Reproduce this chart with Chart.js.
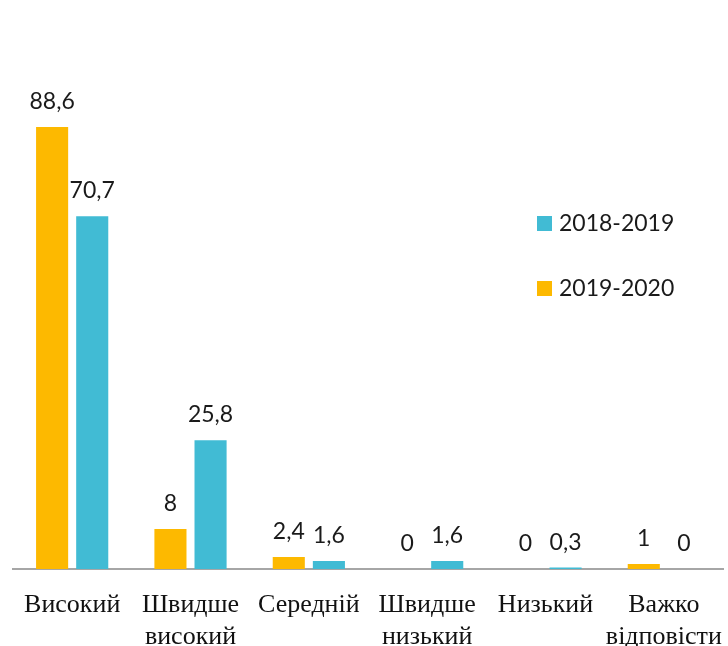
<!DOCTYPE html>
<html>
<head>
<meta charset="utf-8">
<script src="https://cdn.jsdelivr.net/npm/chart.js@4/dist/chart.umd.min.js"></script>
<style>
html,body{margin:0;padding:0;background:#fff;}
#wrap{width:728px;height:646px;}
</style>
</head>
<body>
<div id="wrap"><canvas id="c" width="728" height="646"></canvas></div>
<script>
const categories = [
  ["Високий"],
  ["Швидше", "високий"],
  ["Середній"],
  ["Швидше", "низький"],
  ["Низький"],
  ["Важко", "відповісти"]
];
const seriesNames = ["2019-2020", "2018-2019"];
const values2019_2020 = [88.6, 8, 2.4, 0, 0, 1];
const values2018_2019 = [70.7, 25.8, 1.6, 1.6, 0.3, 0];
const legendOrder = ["2018-2019", "2019-2020"];

const COLORS = {"2019-2020": "#FDB900", "2018-2019": "#41BBD4"};
const LABEL_FONT = "23px Lato";

const fmt = v => String(v).replace('.', ',');

const dataLabels = {
  id: 'dataLabels',
  afterDatasetsDraw(chart) {
    const ctx = chart.ctx;
    ctx.save();
    ctx.font = LABEL_FONT;
    ctx.fillStyle = '#1a1a1a';
    ctx.textAlign = 'center';
    ctx.textBaseline = 'alphabetic';
    chart.data.datasets.forEach((ds, i) => {
      chart.getDatasetMeta(i).data.forEach((bar, j) => {
        ctx.fillText(fmt(ds.data[j]), bar.x, bar.y - 18);
      });
    });
    ctx.restore();
  }
};

const insideLegend = {
  id: 'insideLegend',
  afterDraw(chart) {
    const ctx = chart.ctx;
    const a = chart.chartArea;
    const x0 = a.right - 186;
    const y0 = a.top + 146;
    ctx.save();
    ctx.font = LABEL_FONT;
    ctx.textAlign = 'left';
    ctx.textBaseline = 'middle';
    legendOrder.forEach((name, k) => {
      const y = y0 + k * 65;
      ctx.fillStyle = COLORS[name];
      ctx.fillRect(x0, y, 15, 15);
      ctx.fillStyle = '#1a1a1a';
      ctx.fillText(name, x0 + 22, y + 8);
    });
    ctx.restore();
  }
};

new Chart(document.getElementById('c'), {
  type: 'bar',
  data: {
    labels: categories,
    datasets: [
      {label: seriesNames[0], data: values2019_2020, backgroundColor: COLORS["2019-2020"]},
      {label: seriesNames[1], data: values2018_2019, backgroundColor: COLORS["2018-2019"]}
    ]
  },
  options: {
    responsive: false,
    devicePixelRatio: 1,
    animation: false,
    categoryPercentage: 0.678,
    barPercentage: 0.8,
    layout: {padding: {top: 70, left: 13, right: 5, bottom: 0}},
    plugins: {legend: {display: false}, tooltip: {enabled: false}},
    scales: {
      y: {display: false, min: 0, max: 100},
      x: {
        grid: {display: false, drawTicks: false},
        border: {display: true, color: '#A6A6A6', width: 2},
        ticks: {
          color: '#111',
          padding: 20,
          maxRotation: 0,
          autoSkip: false,
          font: {family: '"Liberation Serif", "Times New Roman", serif', size: 26, lineHeight: 1.23}
        },
        afterFit(scale) {
          scale.height = 77;
          scale.paddingLeft = 0;
          scale.paddingRight = 0;
        }
      }
    }
  },
  plugins: [dataLabels, insideLegend]
});
</script>
</body>
</html>
